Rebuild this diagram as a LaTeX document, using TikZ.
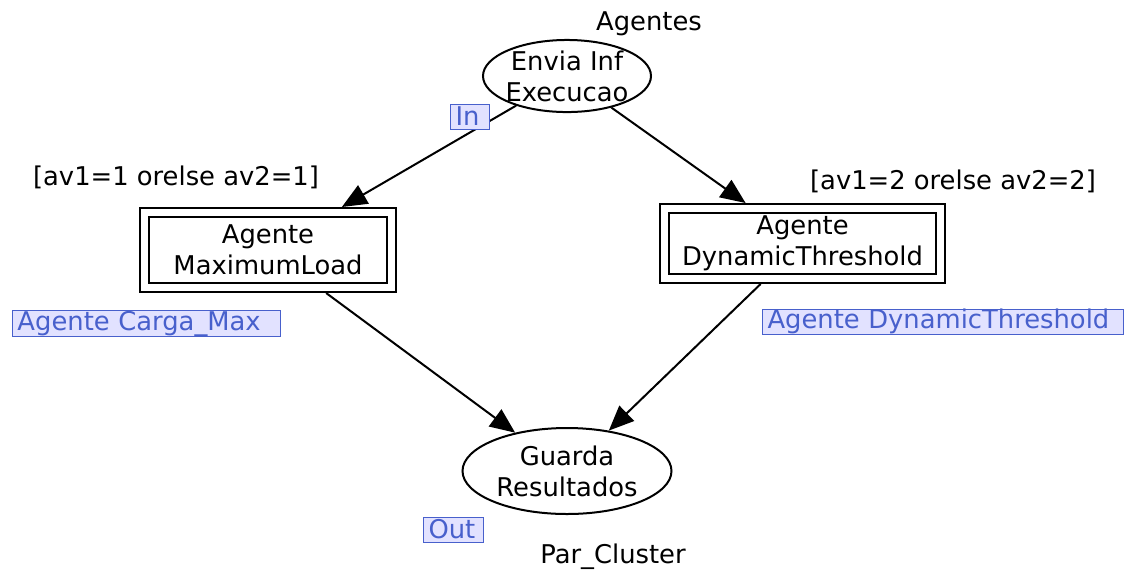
\documentclass[tikz,border=0pt]{standalone}
\usepackage{fontspec}
\setmainfont{DejaVu Sans}
\usetikzlibrary{shapes.geometric,arrows.meta}
\definecolor{portblue}{RGB}{72,96,204}
\definecolor{portfill}{RGB}{226,226,255}
\begin{document}
\begin{tikzpicture}[x=0.5pt,y=-0.5pt,
	every node/.style={font=\fontsize{12.9pt}{15.5pt}\selectfont},
	place/.style={draw,ellipse,line width=1pt,inner sep=0pt,align=center},
	subst/.style={draw,rectangle,line width=1pt,double,double distance=3.5pt,
		outer sep=2.75pt,inner sep=0pt,align=center},
	port/.style={draw=portblue,fill=portfill,text=portblue,line width=0.5pt,
		inner xsep=2.5pt,inner ysep=0pt,minimum height=12.5pt,align=left},
	arc/.style={line width=1pt,-{Triangle[length=12.5pt,width=10.5pt]}}]
	\useasboundingbox (0,0) rectangle (1125,570);
	% places
	\node[place,inner xsep=-1.5pt,minimum width=84pt,minimum height=34.5pt] (envia) at (567,76) {Envia Inf\\Execucao};
	\node[place,minimum width=104.5pt,minimum height=43pt] (guarda) at (567,471) {Guarda\\Resultados};
	% substitution transitions
	\node[subst,minimum width=123.5pt,minimum height=37.5pt] (maxload) at (268,250) {Agente\\MaximumLoad};
	\node[subst,minimum width=138pt,minimum height=35pt] (dynthr) at (802.5,243.5) {Agente\\DynamicThreshold};
	% texts
	\node (agentes) at (649,24) {Agentes};
	\node (parcluster) at (613,557) {Par\_Cluster};
	\node (guard1) at (176,177) {[av1=1 orelse av2=1]};
	\node (guard2) at (953,181) {[av1=2 orelse av2=2]};
	% arcs
	\draw[arc] (envia) -- (maxload);
	\draw[arc] (envia) -- (dynthr);
	\draw[arc] (maxload) -- (guarda);
	\draw[arc] (dynthr) -- (guarda);
	% port and subpage tags
	\node[port,text width=14.5pt,anchor=west] (in) at (450,116.5) {In};
	\node[port,text width=25pt,anchor=west] (out) at (423,529.5) {Out};
	\node[port,text width=129pt,anchor=west] (tagmax) at (12,323.5) {Agente Carga\_Max};
	\node[port,text width=175.5pt,anchor=west] (tagdyn) at (762,321.5) {Agente DynamicThreshold};
\end{tikzpicture}
\end{document}
